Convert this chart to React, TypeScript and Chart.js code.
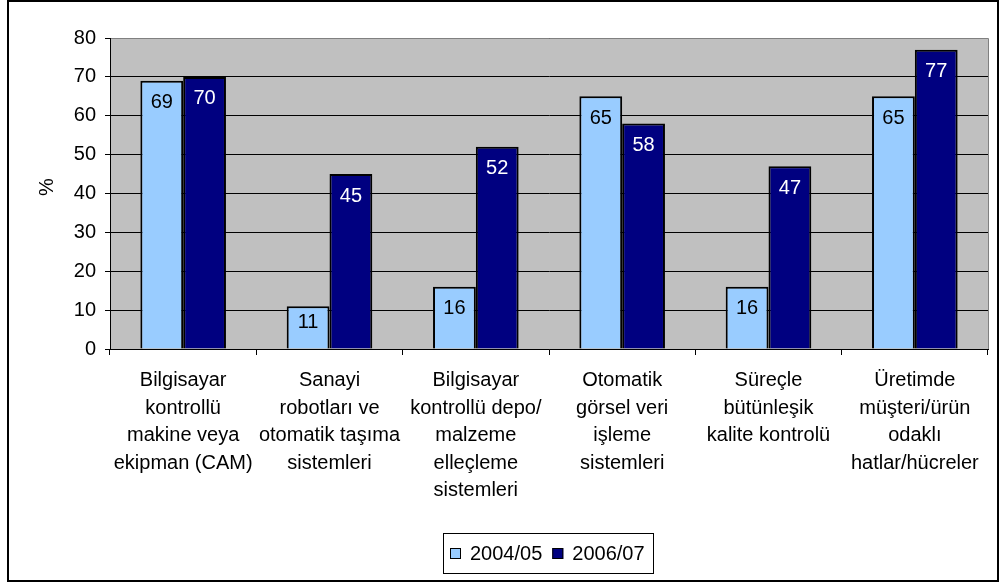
import React, { useEffect, useRef } from "react";
import { Chart, registerables } from "chart.js";

Chart.register(...registerables);

const categories: string[][] = [
  ["Bilgisayar", "kontrollü", "makine veya", "ekipman (CAM)"],
  ["Sanayi", "robotları ve", "otomatik taşıma", "sistemleri"],
  ["Bilgisayar", "kontrollü depo/", "malzeme", "elleçleme", "sistemleri"],
  ["Otomatik", "görsel veri", "işleme", "sistemleri"],
  ["Süreçle", "bütünleşik", "kalite kontrolü"],
  ["Üretimde", "müşteri/ürün", "odaklı", "hatlar/hücreler"],
];
const series2004 = [69, 11, 16, 65, 16, 65];
const series2006 = [70, 45, 52, 58, 47, 77];
const seriesNames = ["2004/05", "2006/07"];
const seriesColors = ["#99CCFF", "#000080"];
const labelColors = ["#000000", "#FFFFFF"];
const yMin = 0;
const yMax = 80;
const yStep = 10;
const yTitle = "%";

const FONT = "'Liberation Sans', Arial, sans-serif";
const FS = 20;

const customPlugin = {
  id: "custom",
  beforeDraw(chart: any) {
    const ctx = chart.ctx;
    const a = chart.chartArea;
    ctx.save();
    ctx.fillStyle = "#C0C0C0";
    ctx.fillRect(a.left, a.top, a.right - a.left, a.bottom - a.top);
    ctx.restore();
  },
  afterDatasetsDraw(chart: any) {
    const ctx = chart.ctx;
    ctx.save();
    ctx.font = `${FS}px ${FONT}`;
    ctx.textAlign = "center";
    ctx.textBaseline = "middle";
    chart.data.datasets.forEach((ds: any, i: number) => {
      const meta = chart.getDatasetMeta(i);
      meta.data.forEach((bar: any, j: number) => {
        const h = bar.base - bar.y;
        const off = Math.min(22, h - 26);
        ctx.fillStyle = labelColors[i];
        ctx.fillText(String(ds.data[j]), bar.x, bar.y + off);
      });
    });
    ctx.restore();
  },
  afterDraw(chart: any) {
    const ctx = chart.ctx;
    const a = chart.chartArea;
    ctx.save();
    // top & right plot border in gray
    ctx.strokeStyle = "#808080";
    ctx.lineWidth = 1;
    ctx.beginPath();
    ctx.moveTo(a.left + 1, Math.round(a.top) + 0.5);
    ctx.lineTo(Math.round(a.right) + 0.5, Math.round(a.top) + 0.5);
    ctx.lineTo(Math.round(a.right) + 0.5, a.bottom);
    ctx.stroke();

    // y title
    ctx.fillStyle = "#000";
    ctx.font = `${FS}px ${FONT}`;
    ctx.textAlign = "center";
    ctx.textBaseline = "middle";
    ctx.translate(38, 185);
    ctx.rotate(-Math.PI / 2);
    ctx.fillText(yTitle, 0, 0);
    ctx.setTransform(1, 0, 0, 1, 0, 0);

    // legend
    const lx = 434, ly = 531, lw = 210, lh = 40;
    ctx.strokeStyle = "#000";
    ctx.lineWidth = 1;
    ctx.strokeRect(lx + 0.5, ly + 0.5, lw, lh);
    ctx.font = `${FS}px ${FONT}`;
    ctx.textAlign = "left";
    ctx.textBaseline = "middle";
    let x = lx + 7;
    const cy = ly + 21;
    seriesNames.forEach((name, i) => {
      ctx.fillStyle = seriesColors[i];
      ctx.fillRect(x, cy - 6, 11, 11);
      ctx.strokeStyle = "#000";
      ctx.strokeRect(x + 0.5, cy - 5.5, 10, 10);
      ctx.fillStyle = "#000";
      ctx.fillText(name, x + 20, cy);
      x += 20 + ctx.measureText(name).width + 10;
    });
    ctx.restore();
  },
};

export default function App() {
  const ref = useRef<HTMLCanvasElement | null>(null);
  useEffect(() => {
    if (!ref.current) return;
    const chart = new Chart(ref.current, {
      type: "bar",
      data: {
        labels: categories,
        datasets: [
          {
            label: seriesNames[0],
            data: series2004,
            backgroundColor: seriesColors[0],
            borderColor: "#000",
            borderWidth: 2,
            barPercentage: 1,
            categoryPercentage: 0.585,
          },
          {
            label: seriesNames[1],
            data: series2006,
            backgroundColor: seriesColors[1],
            borderColor: "#000",
            borderWidth: 2,
            barPercentage: 1,
            categoryPercentage: 0.585,
          },
        ],
      },
      options: {
        responsive: false,
        animation: false,
        layout: { padding: { left: 0, right: 9, top: 36, bottom: 0 } },
        plugins: {
          legend: { display: false },
          tooltip: { enabled: false },
        },
        scales: {
          x: {
            grid: {
              offset: true,
              drawOnChartArea: false,
              drawTicks: true,
              tickLength: 6,
              color: "#000",
            },
            border: { color: "#000", width: 1 },
            ticks: {
              color: "#000",
              font: { family: FONT, size: FS, lineHeight: 1.375 },
              padding: 12,
              maxRotation: 0,
              autoSkip: false,
            },
            afterFit(scale: any) {
              scale.height = 231;
            },
          },
          y: {
            min: yMin,
            max: yMax,
            ticks: {
              stepSize: yStep,
              color: "#000",
              font: { family: FONT, size: FS },
              padding: 9,
            },
            grid: { color: "#000", tickLength: 5, lineWidth: 1 },
            border: { color: "#000", width: 1 },
            afterFit(scale: any) {
              scale.width = 101;
            },
          },
        },
      },
      plugins: [customPlugin],
    });
    return () => chart.destroy();
  }, []);
  return (
    <div
      style={{
        position: "absolute",
        left: 7,
        top: 0,
        width: 992,
        height: 582,
        border: "2px solid #000",
        boxSizing: "border-box",
        background: "#fff",
      }}
    >
      <canvas
        ref={ref}
        width={988}
        height={578}
        style={{ display: "block", background: "transparent" }}
      />
    </div>
  );
}
